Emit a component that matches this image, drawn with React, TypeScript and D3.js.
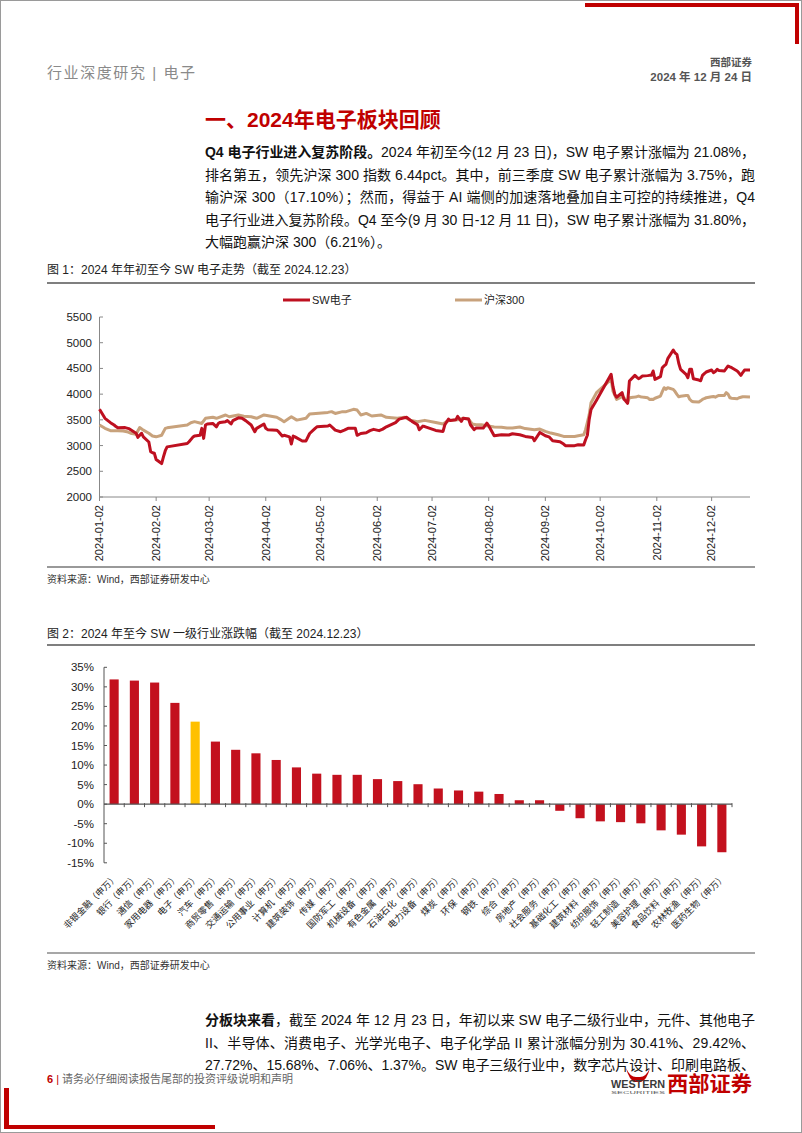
import React from "react";
import * as d3 from "d3";

// ---------- Chart 1 data ----------
const monthTicks = ["2024-01-02","2024-02-02","2024-03-02","2024-04-02","2024-05-02","2024-06-02","2024-07-02","2024-08-02","2024-09-02","2024-10-02","2024-11-02","2024-12-02"];
const yTicks1 = [2000, 2500, 3000, 3500, 4000, 4500, 5000, 5500];
const seriesNames = ["SW电子", "沪深300"];

const swElec: [string, number][] = [
["01-02",3705],["01-05",3530],["01-08",3445],["01-10",3400],["01-11",3370],["01-12",3345],["01-16",3350],["01-18",3330],["01-22",3240],["01-23",3160],["01-24",3200],["01-25",3240],["01-26",3170],["01-29",3070],["01-30",2880],["01-31",2860],["02-01",2850],["02-02",2730],["02-05",2650],["02-06",2780],["02-07",2900],["02-08",2975],["02-19",3040],["02-20",3075],["02-22",3160],["02-23",3185],["02-26",3200],["02-27",3335],["02-28",3140],["02-29",3400],["03-01",3420],["03-04",3430],["03-06",3365],["03-07",3430],["03-08",3450],["03-11",3465],["03-12",3485],["03-14",3420],["03-15",3485],["03-18",3540],["03-20",3530],["03-22",3485],["03-25",3400],["03-27",3270],["03-28",3335],["04-01",3420],["04-02",3335],["04-03",3310],["04-08",3300],["04-09",3270],["04-11",3185],["04-12",3200],["04-15",3170],["04-16",3030],["04-17",3185],["04-18",3170],["04-22",3090],["04-24",3090],["04-26",3235],["04-29",3335],["04-30",3365],["05-06",3380],["05-07",3400],["05-09",3335],["05-10",3300],["05-13",3270],["05-15",3300],["05-17",3335],["05-21",3335],["05-22",3200],["05-24",3235],["05-27",3250],["05-29",3290],["05-31",3315],["06-03",3290],["06-05",3320],["06-07",3365],["06-12",3445],["06-14",3515],["06-18",3550],["06-21",3470],["06-24",3405],["06-25",3308],["06-27",3378],["06-28",3370],["07-02",3320],["07-04",3294],["07-08",3275],["07-09",3405],["07-11",3515],["07-12",3489],["07-15",3500],["07-16",3567],["07-18",3470],["07-19",3530],["07-22",3515],["07-23",3405],["07-25",3308],["07-26",3340],["07-30",3340],["08-01",3437],["08-02",3385],["08-05",3191],["08-09",3210],["08-13",3205],["08-15",3230],["08-19",3210],["08-22",3178],["08-26",3159],["08-27",3094],["08-30",3256],["09-02",3191],["09-04",3170],["09-06",3094],["09-10",3075],["09-12",3030],["09-13",2998],["09-18",2998],["09-20",3017],["09-23",3010],["09-24",3113],["09-25",3200],["09-26",3509],["09-27",3700],["09-30",3880],["10-08",4385],["10-09",4150],["10-10",4000],["10-11",3940],["10-14",4028],["10-15",3900],["10-16",3866],["10-17",3820],["10-18",4255],["10-21",4365],["10-22",4330],["10-23",4300],["10-24",4320],["10-25",4352],["10-28",4360],["10-29",4365],["10-30",4365],["10-31",4450],["11-01",4287],["11-04",4340],["11-05",4514],["11-06",4550],["11-07",4579],["11-08",4690],["11-11",4858],["11-12",4800],["11-13",4774],["11-14",4600],["11-15",4482],["11-18",4385],["11-19",4320],["11-20",4482],["11-21",4482],["11-22",4300],["11-25",4274],["11-26",4260],["11-27",4365],["11-28",4400],["11-29",4430],["12-02",4469],["12-03",4417],["12-04",4440],["12-05",4482],["12-06",4460],["12-09",4450],["12-10",4500],["12-11",4547],["12-12",4530],["12-13",4514],["12-16",4450],["12-17",4410],["12-18",4365],["12-19",4420],["12-20",4469],["12-23",4469]
];

const hs300: [string, number][] = [
["01-02",3400],["01-05",3335],["01-08",3290],["01-12",3290],["01-15",3285],["01-17",3270],["01-19",3240],["01-22",3220],["01-24",3350],["01-26",3300],["01-29",3240],["01-31",3185],["02-02",3170],["02-05",3200],["02-07",3335],["02-08",3345],["02-19",3400],["02-21",3445],["02-23",3465],["02-27",3430],["02-29",3530],["03-04",3550],["03-06",3530],["03-11",3595],["03-13",3560],["03-18",3595],["03-21",3570],["03-25",3560],["03-28",3530],["04-01",3595],["04-08",3550],["04-10",3510],["04-12",3465],["04-16",3560],["04-19",3495],["04-24",3530],["04-26",3615],["05-06",3645],["05-08",3660],["05-10",3625],["05-14",3660],["05-16",3660],["05-20",3705],["05-22",3690],["05-24",3595],["05-27",3625],["05-30",3575],["06-04",3595],["06-07",3550],["06-13",3530],["06-17",3550],["06-20",3495],["06-24",3465],["06-28",3490],["07-04",3450],["07-08",3420],["07-10",3470],["07-12",3490],["07-16",3502],["07-19",3530],["07-22",3515],["07-24",3420],["07-26",3405],["07-29",3405],["08-01",3385],["08-05",3360],["08-09",3355],["08-12",3340],["08-15",3340],["08-19",3360],["08-22",3330],["08-27",3308],["08-30",3320],["09-02",3275],["09-05",3243],["09-09",3210],["09-12",3178],["09-18",3178],["09-20",3191],["09-23",3210],["09-24",3308],["09-25",3450],["09-26",3600],["09-27",3833],["09-30",4028],["10-08",4287],["10-09",4060],["10-10",3980],["10-11",3898],["10-14",3950],["10-15",3930],["10-16",3880],["10-17",3833],["10-18",3930],["10-21",3943],["10-22",3950],["10-23",3963],["10-24",3950],["10-25",3943],["10-28",3930],["10-29",3898],["10-30",3900],["10-31",3898],["11-01",3920],["11-04",3963],["11-05",4050],["11-06",4125],["11-07",4093],["11-08",4125],["11-11",4093],["11-12",4050],["11-13",3995],["11-14",3950],["11-15",3960],["11-18",3975],["11-19",3975],["11-20",3900],["11-21",3866],["11-22",3850],["11-25",3846],["11-26",3870],["11-27",3898],["11-28",3915],["11-29",3930],["12-02",3950],["12-03",3955],["12-04",3940],["12-05",3960],["12-06",3975],["12-09",3975],["12-10",4028],["12-11",4000],["12-12",3930],["12-13",3920],["12-16",3911],["12-17",3930],["12-18",3940],["12-19",3950],["12-20",3950],["12-23",3945]
];

// ---------- Chart 2 data ----------
const industries = ["非银金融","银行","通信","家用电器","电子","汽车","商贸零售","交通运输","公用事业","计算机","建筑装饰","传媒","国防军工","机械设备","有色金属","石油石化","电力设备","煤炭","环保","钢铁","综合","房地产","社会服务","基础化工","建筑材料","纺织服饰","轻工制造","美容护理","食品饮料","农林牧渔","医药生物"];
const returns = [31.9,31.6,31.1,25.9,21.1,16.0,13.9,13.0,11.3,9.4,7.8,7.5,7.5,6.4,5.9,5.1,4.0,3.5,3.2,2.6,1.0,1.0,-1.7,-3.6,-4.4,-4.6,-4.9,-6.7,-7.8,-10.8,-12.3];
const highlightIndustry = "电子";
const yTicks2 = [35, 30, 25, 20, 15, 10, 5, 0, -5, -10, -15];

// ---------- text ----------
const para1 = [
  { b: "Q4 电子行业进入复苏阶段。", t: "2024 年初至今(12 月 23 日)，SW 电子累计涨幅为 21.08%，" },
  { b: "", t: "排名第五，领先沪深 300 指数 6.44pct。其中，前三季度 SW 电子累计涨幅为 3.75%，跑" },
  { b: "", t: "输沪深 300（17.10%）；然而，得益于 AI 端侧的加速落地叠加自主可控的持续推进，Q4" },
  { b: "", t: "电子行业进入复苏阶段。Q4 至今(9 月 30 日-12 月 11 日)，SW 电子累计涨幅为 31.80%，" },
  { b: "", t: "大幅跑赢沪深 300（6.21%）。" },
];
const para2 = [
  { b: "分板块来看", t: "，截至 2024 年 12 月 23 日，年初以来 SW 电子二级行业中，元件、其他电子" },
  { b: "", t: "II、半导体、消费电子、光学光电子、电子化学品 II 累计涨幅分别为 30.41%、29.42%、" },
  { b: "", t: "27.72%、15.68%、7.06%、1.37%。SW 电子三级行业中，数字芯片设计、印刷电路板、" },
];

const SANS = "'Liberation Sans', Arial, 'Noto Sans CJK SC', sans-serif";
const RED = "#BE1020";
const TAN = "#C8A27C";
const BAR = "#C3111E";
const YEL = "#FFC000";

export default function App() {
  const parse = d3.timeParse("%Y-%m-%d");
  const toDate = (s: string) => parse("2024-" + s) as Date;

  // chart 1
  const x1 = d3.scaleTime().domain([toDate("01-02"), toDate("12-23")]).range([99.5, 750]);
  const y1 = d3.scaleLinear().domain([2000, 5500]).range([497, 317]);
  const line = d3.line<[string, number]>().x(d => x1(toDate(d[0]))).y(d => y1(d[1])).curve(d3.curveLinear);

  // chart 2
  const x2 = d3.scaleBand<string>().domain(industries).range([104, 732]).paddingInner(0.55).paddingOuter(0.275);
  const y2 = d3.scaleLinear().domain([-15, 35]).range([862.8, 667.3]);
  const step = x2.step();

  const renderPara = (lines: { b: string; t: string }[], y0: number, dy: number, justifyAll: boolean) =>
    lines.map((l, i) => {
      const justify = justifyAll || i < lines.length - 1;
      return (
        <text key={i} x={205} y={y0 + i * dy} fontSize={14} fill="#111" fontFamily={SANS}
          {...(justify ? { textLength: 550, lengthAdjust: "spacing" } : {})}>
          {l.b && <tspan fontWeight="bold">{l.b}</tspan>}
          <tspan>{l.t}</tspan>
        </text>
      );
    });

  return (
    <svg width={802} height={1133} style={{ position: "absolute", left: 0, top: 0, display: "block", background: "#fff" }} fontFamily={SANS}>
      <rect x={0.5} y={0.5} width={801} height={1132} fill="#fff" stroke="#9a9a9a" strokeWidth={1} />
      {/* decorative red corners */}
      <rect x={585} y={3} width={213} height={4} fill="#C00000" />
      <rect x={795} y={3} width={4} height={41} fill="#C00000" />
      <rect x={4} y={1088} width={5} height={41} fill="#C00000" />
      <rect x={4} y={1125} width={211} height={4} fill="#C00000" />

      {/* header */}
      <text x={47} y={78} fontSize={15} fill="#8a8a8a" textLength={148} lengthAdjust="spacing">行业深度研究 | 电子</text>
      <text x={752} y={66} fontSize={10.5} fill="#555" fontWeight="bold" textAnchor="end">西部证券</text>
      <text x={752} y={81} fontSize={11.5} fill="#555" fontWeight="bold" textAnchor="end">2024 年 12 月 24 日</text>

      {/* section title */}
      <text x={205} y={127} fontSize={21} fontWeight="bold" fill="#C00000">一、2024年电子板块回顾</text>
      {renderPara(para1, 157, 22.5, false)}

      {/* ---------- Figure 1 ---------- */}
      <text x={47} y={274} fontSize={12} fill="#222">图 1：2024 年年初至今 SW 电子走势（截至 2024.12.23）</text>
      <line x1={47} x2={755} y1={283} y2={283} stroke="#555" strokeWidth={1.5} />

      {/* legend */}
      <line x1={283} x2={310} y1={300} y2={300} stroke={RED} strokeWidth={3} />
      <text x={312} y={304} fontSize={11} fill="#222">{seriesNames[0]}</text>
      <line x1={455} x2={482} y1={300} y2={300} stroke={TAN} strokeWidth={3} />
      <text x={484} y={304} fontSize={11} fill="#222">{seriesNames[1]}</text>

      {/* axes */}
      <line x1={99.5} x2={99.5} y1={317} y2={497} stroke="#888" strokeWidth={1} />
      {yTicks1.map(v => (
        <g key={v}>
          <line x1={99.5} x2={103} y1={y1(v)} y2={y1(v)} stroke="#888" />
          <text x={92} y={y1(v)} dy="0.35em" fontSize={11.5} textAnchor="end" fill="#222">{v}</text>
        </g>
      ))}
      <line x1={99.5} x2={750} y1={497} y2={497} stroke="#888" strokeWidth={1} />
      {monthTicks.map(m => {
        const xx = x1(parse(m) as Date);
        return (
          <g key={m}>
            <line x1={xx} x2={xx} y1={497} y2={501} stroke="#888" />
            <text transform={`translate(${xx},505) rotate(-90)`} dy="0.35em" fontSize={11} textAnchor="end" fill="#222">{m}</text>
          </g>
        );
      })}
      <path d={line(hs300) || ""} fill="none" stroke={TAN} strokeWidth={3} strokeLinejoin="round" />
      <path d={line(swElec) || ""} fill="none" stroke={RED} strokeWidth={3} strokeLinejoin="round" />

      <line x1={47} x2={755} y1={567} y2={567} stroke="#777" strokeWidth={1.5} />
      <text x={47} y={583} fontSize={10} fill="#333">资料来源：Wind，西部证券研发中心</text>

      {/* ---------- Figure 2 ---------- */}
      <text x={47} y={638} fontSize={12} fill="#222">图 2：2024 年至今 SW 一级行业涨跌幅（截至 2024.12.23）</text>
      <line x1={47} x2={755} y1={645} y2={645} stroke="#555" strokeWidth={1.5} />

      <line x1={104} x2={104} y1={y2(35)} y2={y2(-15)} stroke="#555" strokeWidth={1} />
      {yTicks2.map(v => (
        <g key={v}>
          <line x1={104} x2={107} y1={y2(v)} y2={y2(v)} stroke="#555" />
          <text x={94} y={y2(v)} dy="0.35em" fontSize={11.5} textAnchor="end" fill="#222">{v}%</text>
        </g>
      ))}
      {industries.map((name, i) => {
        const v = returns[i];
        const bx = x2(name) as number;
        return (
          <rect key={name} x={bx} width={x2.bandwidth()} y={y2(Math.max(0, v))}
            height={Math.abs(y2(v) - y2(0))} fill={name === highlightIndustry ? YEL : BAR} />
        );
      })}
      <line x1={104} x2={732} y1={y2(0)} y2={y2(0)} stroke="#555" strokeWidth={1.2} />
      {industries.map((name, i) => {
        const tx = 104 + (i + 1) * step;
        return <line key={"t" + name} x1={tx} x2={tx} y1={y2(0) - 1} y2={y2(0) + 3} stroke="#555" />;
      })}
      {industries.map(name => {
        const cx = (x2(name) as number) + x2.bandwidth() / 2;
        return (
          <text key={"l" + name} transform={`translate(${cx + 2},876) rotate(-45)`} dy="0.35em"
            fontSize={9} textAnchor="end" fill="#222">{name}（申万）</text>
        );
      })}

      <line x1={47} x2={755} y1={953} y2={953} stroke="#8a8a8a" strokeWidth={1.5} />
      <text x={47} y={969} fontSize={10} fill="#333">资料来源：Wind，西部证券研发中心</text>

      {renderPara(para2, 1025, 22.5, true)}

      {/* footer */}
      <text x={47} y={1083} fontSize={11} fill="#666">
        <tspan fill="#C00000" fontWeight="bold">6</tspan>
        <tspan fill="#C00000"> | </tspan>
        <tspan>请务必仔细阅读报告尾部的投资评级说明和声明</tspan>
      </text>
      {/* logo */}
      <path d="M626,1068 Q630,1077 636,1077 L640,1077 Q646,1077 650,1068 Q647,1080 641,1082 L635,1082 Q629,1080 626,1068 Z" fill="#C00000" />
      <text x={611} y={1088} fontSize={11.5} fontWeight="bold" fill="#3a3a3a" textLength={54} lengthAdjust="spacingAndGlyphs">WESTERN</text>
      <text x={611} y={1094} fontSize={4} fill="#555" textLength={54} lengthAdjust="spacingAndGlyphs">SECURITIES</text>
      <text x={667} y={1091} fontSize={21} fontWeight="bold" fill="#C00000" textLength={85} lengthAdjust="spacingAndGlyphs">西部证券</text>
    </svg>
  );
}
